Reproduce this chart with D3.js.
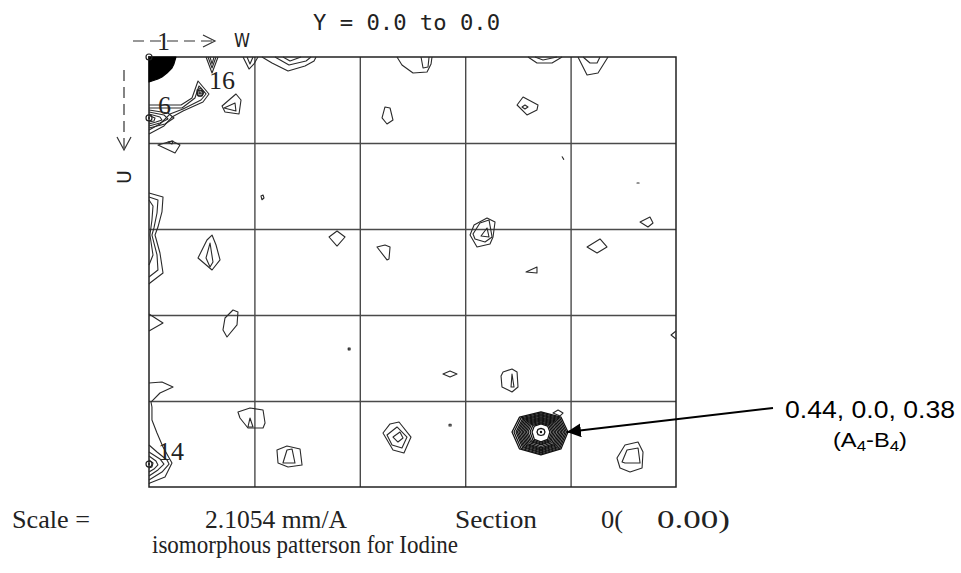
<!DOCTYPE html>
<html>
<head>
<meta charset="utf-8">
<script src="https://cdn.jsdelivr.net/npm/d3@7/dist/d3.min.js"></script>
<style>
  body { margin: 0; background: #fff; }
  svg { display: block; }
</style>
</head>
<body>
<svg id="chart" width="961" height="573"></svg>
<script>
// Patterson section Y = 0.0. Map coordinates W (across) and U (down)
// are given in hundredths of the cell edge: 0..50 covers 0.0..0.5.
const gridTicks = [10, 20, 30, 40];

// Solid origin peak (contours too dense to separate)
const originPeak = [[0, 0], [2.56, 0], [2.37, 0.81], [2.18, 1.28], [1.71, 1.86], [1.23, 2.33], [0.85, 2.56], [0, 2.91]];

// Contours cut by the top edge (open)
const topEdgeContours = [
  [[5.41, 0], [5.98, 1.86], [6.55, 0]],
  [[5.60, 0], [5.98, 1.28], [6.36, 0]],
  [[5.79, 0], [5.98, 0.81], [6.17, 0]],
  [[8.92, 0], [9.49, 1.40], [9.96, 0.81], [10.34, 0]],
  [[9.30, 0], [9.58, 0.81], [9.87, 0]],
  [[10.72, 0], [11.67, 0.70], [13.19, 1.63], [14.80, 1.05], [15.66, 0.47], [15.85, 0]],
  [[11.95, 0], [13.28, 0.93], [14.90, 0.47], [15.37, 0]],
  [[12.71, 0], [13.38, 0.47], [14.42, 0]],
  [[23.53, 0], [24.00, 0.93], [25.05, 1.86], [26.38, 1.74], [26.76, 0.81], [26.85, 0]],
  [[25.81, 0], [26.00, 1.28], [26.47, 1.16], [26.57, 0]],
  [[35.96, 0], [36.81, 0.70], [38.24, 0.70], [39.19, 0]],
  [[36.62, 0], [37.38, 0.35], [38.71, 0]],
  [[40.70, 0], [41.56, 2.09], [42.60, 1.86], [43.55, 0]],
  [[41.18, 0], [41.84, 0.70], [42.51, 0.70], [42.79, 0]]
];

// Contours cut by the left and right edges (open)
const sideEdgeContours = [
  [[0, 5.58], [3.04, 5.58], [4.08, 4.77], [4.65, 2.79], [5.69, 4.30], [5.12, 5.23], [3.23, 6.28], [2.18, 6.98], [1.42, 8.02], [0, 8.95]],
  [[0, 5.93], [3.13, 5.93], [4.36, 4.77], [4.74, 3.37], [5.41, 4.30], [4.93, 5.00], [3.23, 6.05], [1.99, 6.63], [1.04, 7.79], [0, 8.49]],
  [[0, 6.16], [1.80, 6.51], [2.37, 7.09], [1.52, 7.79], [0, 8.26]],
  [[0, 6.40], [1.42, 6.74], [1.80, 7.21], [1.04, 7.67], [0, 8.02]],
  [[0, 6.63], [1.04, 6.98], [1.23, 7.33], [0.66, 7.56], [0, 7.79]],
  [[0, 6.80], [0.57, 7.09], [0.47, 7.44], [0, 7.56]],
  [[0, 15.81], [1.33, 16.28], [1.23, 18.02], [0.85, 19.77], [0.57, 20.70], [1.04, 22.79], [1.33, 25.12], [0.09, 26.28], [0, 26.4]],
  [[0, 16.28], [0.85, 16.63], [0.76, 18.14], [0.47, 19.88], [0.28, 20.70], [0.76, 23.02], [0.85, 24.77], [0, 25.58]],
  [[0, 16.63], [0.38, 17.33], [0.28, 18.95], [0.09, 20.70], [0.38, 23.02], [0, 24.19]],
  [[0, 29.88], [1.33, 30.93], [0, 31.86]],
  [[0, 37.91], [1.23, 37.79], [2.28, 38.37], [1.04, 39.07], [0.19, 40.12], [0.28, 40.70], [0.28, 42.21], [0.76, 43.72], [1.33, 45.35], [2.18, 47.21], [1.52, 48.84], [0.09, 49.53], [0, 49.65]],
  [[0, 45.12], [0.76, 45.93], [1.71, 46.86], [1.90, 47.33], [1.23, 48.26], [0, 49.19]],
  [[0, 45.93], [1.04, 46.74], [1.42, 47.33], [0.85, 48.02], [0, 48.72]],
  [[0, 46.40], [0.66, 46.98], [0.85, 47.44], [0.47, 47.91], [0, 48.26]],
  [[0, 46.86], [0.38, 47.21], [0.28, 47.67], [0, 47.79]],
  [[50, 31.86], [49.53, 32.33], [50, 32.79]]
];

// Closed contours inside the map
const closedContours = [
  [[6.93, 5.70], [8.25, 4.30], [8.73, 5.00], [8.54, 6.63], [7.21, 6.40]],
  [[7.12, 5.93], [8.16, 5.35], [8.25, 6.28]],
  [[4.55, 3.84], [4.93, 3.60], [5.22, 4.07], [5.03, 4.53], [4.65, 4.53]],
  [[4.74, 3.95], [5.03, 3.95], [5.03, 4.30], [4.74, 4.30]],
  [[22.39, 5.81], [22.87, 5.93], [23.15, 7.33], [22.58, 7.79], [22.11, 7.09]],
  [[34.92, 5.58], [35.49, 4.65], [36.91, 5.58], [36.81, 6.16], [35.86, 6.74]],
  [[35.39, 5.81], [35.67, 5.58], [35.96, 5.81], [35.67, 6.05]],
  [[0.85, 10.23], [2.18, 9.77], [2.94, 10.23], [2.47, 11.16]],
  [[1.80, 9.88], [2.28, 9.77], [2.18, 10.12]],
  [[10.62, 16.16], [10.82, 16.05], [10.91, 16.40], [10.72, 16.60]],
  [[39.20, 11.60], [39.35, 11.90]],
  [[46.30, 14.65], [46.50, 14.65]],
  [[46.59, 19.19], [47.53, 18.60], [47.82, 19.30], [47.34, 19.77]],
  [[17.08, 20.93], [17.84, 20.23], [18.60, 20.93], [17.84, 21.98]],
  [[21.63, 22.09], [22.39, 21.86], [22.87, 22.09], [22.77, 23.49], [22.58, 23.60]],
  [[30.46, 20.70], [30.84, 19.53], [32.07, 18.72], [32.83, 19.19], [32.64, 20.93], [32.35, 21.74], [31.12, 22.09]],
  [[30.74, 20.58], [31.40, 19.30], [32.26, 18.95], [32.55, 20.93], [31.88, 21.51], [30.93, 21.16]],
  [[31.50, 20.81], [32.07, 19.88], [32.26, 20.93]],
  [[35.77, 25.00], [36.81, 24.42], [36.81, 25.12]],
  [[41.56, 22.09], [42.79, 21.16], [43.45, 22.09], [42.51, 22.79]],
  [[4.65, 23.37], [5.50, 21.28], [5.98, 20.70], [6.36, 21.86], [6.74, 23.60], [5.98, 24.77]],
  [[5.41, 23.37], [5.79, 21.63], [6.07, 23.84], [5.79, 24.42]],
  [[7.97, 29.42], [8.44, 29.65], [8.35, 31.16], [7.40, 32.56], [7.02, 31.74], [7.21, 30.35]],
  [[18.90, 33.85], [19.08, 33.85], [19.08, 34.05], [18.90, 34.05]],
  [[27.89, 36.86], [28.56, 36.51], [29.22, 36.86], [28.56, 37.21]],
  [[33.40, 37.09], [33.59, 36.63], [34.44, 36.28], [34.92, 36.63], [35.01, 38.37], [34.44, 38.95], [33.49, 38.37]],
  [[34.35, 38.37], [34.44, 36.86], [34.63, 38.37]],
  [[8.44, 41.28], [9.58, 40.81], [10.82, 41.05], [11.01, 42.56], [10.82, 43.14], [9.39, 43.14], [8.63, 41.98]],
  [[9.39, 43.02], [9.58, 41.98], [9.87, 43.02]],
  [[12.14, 45.70], [13.09, 45.23], [14.33, 45.58], [14.52, 47.44], [13.19, 47.67], [12.24, 47.21]],
  [[12.71, 47.21], [13.09, 45.70], [13.57, 45.58], [13.85, 47.21]],
  [[22.20, 43.72], [22.87, 42.67], [23.72, 42.44], [24.86, 44.19], [24.19, 46.05], [23.15, 45.70]],
  [[22.58, 43.95], [23.53, 43.02], [24.48, 44.19], [24.00, 45.47], [23.06, 45.12]],
  [[23.15, 44.19], [23.81, 43.60], [24.10, 44.30], [23.62, 44.77]],
  [[28.47, 42.70], [28.66, 42.70], [28.66, 42.90], [28.47, 42.90]],
  [[44.40, 46.63], [45.16, 45.12], [46.40, 44.77], [46.87, 45.93], [46.78, 47.79], [45.64, 48.26], [44.69, 47.79]],
  [[44.88, 47.09], [45.35, 45.70], [46.40, 45.47], [46.59, 47.21], [45.16, 47.21]],
  [[38.33, 41.40], [38.81, 41.05], [39.28, 41.40], [39.00, 41.74]]
];

// Strong Harker peak: centre and the extents of its nested contours
const peakCentre = { w: 37.19, u: 43.60 };
const ringLeft   = [2.75, 2.56, 2.37, 2.23, 2.09, 1.94, 1.80, 1.66, 1.52, 1.38, 1.23, 1.04, 0.85, 0.38];
const ringRight  = [2.56, 2.42, 2.28, 2.13, 1.99, 1.85, 1.71, 1.57, 1.42, 1.28, 1.14, 1.00, 0.85, 0.38];
const ringTop    = [2.33, 2.21, 2.09, 1.98, 1.86, 1.74, 1.63, 1.51, 1.40, 1.28, 1.16, 1.05, 0.93, 0.41];
const ringBottom = [2.67, 2.56, 2.44, 2.33, 2.21, 2.09, 1.98, 1.86, 1.69, 1.51, 1.40, 1.28, 1.16, 0.41];

// Atom positions marked on the section
const atomLabels = ["1", "6", "16", "14"];
const atomW = [0, 0, 4.84, 0];
const atomU = [0, 7.09, 4.19, 47.33];

// Peak annotation
const peakCoords = "0.44, 0.0, 0.38";
const peakPair = ["A", "4", "-B", "4"];

const svg = d3.select("#chart");
const x = d3.scaleLinear().domain([0, 50]).range([149, 676]);
const y = d3.scaleLinear().domain([0, 50]).range([57, 487]);

const openLine = d3.line().x(d => x(d[0])).y(d => y(d[1]));
const closedLine = d3.line().x(d => x(d[0])).y(d => y(d[1])).curve(d3.curveLinearClosed);

// Grid at 0.1 intervals
svg.append("g")
  .attr("transform", `translate(0,${y(0)})`)
  .call(d3.axisTop(x).tickValues(gridTicks).tickSize(-(y(50) - y(0))).tickFormat(""))
  .call(g => g.select(".domain").remove())
  .call(g => g.selectAll("line").attr("stroke", "#4a4a4a").attr("stroke-width", 1.4));
svg.append("g")
  .attr("transform", `translate(${x(0)},0)`)
  .call(d3.axisLeft(y).tickValues(gridTicks).tickSize(-(x(50) - x(0))).tickFormat(""))
  .call(g => g.select(".domain").remove())
  .call(g => g.selectAll("line").attr("stroke", "#4a4a4a").attr("stroke-width", 1.4));
svg.append("rect")
  .attr("x", x(0)).attr("y", y(0))
  .attr("width", x(50) - x(0)).attr("height", y(50) - y(0))
  .attr("fill", "none").attr("stroke", "#222").attr("stroke-width", 1.5);

const contours = svg.append("g")
  .attr("fill", "none").attr("stroke", "#2a2a2a").attr("stroke-width", 1.1)
  .attr("stroke-linejoin", "round");

contours.append("path").attr("d", closedLine(originPeak)).attr("fill", "#000").attr("stroke", "#000");
contours.selectAll(".top").data(topEdgeContours).join("path").attr("class", "top").attr("d", openLine);
contours.selectAll(".side").data(sideEdgeContours).join("path").attr("class", "side").attr("d", openLine);
contours.selectAll(".closed").data(closedContours).join("path").attr("class", "closed").attr("d", closedLine);

// Nested rings of the strong peak, each an octagon through its four extents
const diag = 0.74;
const rings = ringLeft.map((l, i) => {
  const r = ringRight[i], t = ringTop[i], b = ringBottom[i];
  const c = peakCentre;
  return [
    [c.w + r, c.u], [c.w + r * diag, c.u + b * diag], [c.w, c.u + b], [c.w - l * diag, c.u + b * diag],
    [c.w - l, c.u], [c.w - l * diag, c.u - t * diag], [c.w, c.u - t], [c.w + r * diag, c.u - t * diag]
  ];
});
contours.selectAll(".ring").data(rings).join("path").attr("class", "ring")
  .attr("d", closedLine).attr("stroke", "#111").attr("stroke-width", 1.25);
contours.append("circle").attr("cx", x(peakCentre.w)).attr("cy", y(peakCentre.u)).attr("r", 1.2)
  .attr("fill", "#111").attr("stroke", "none");

// Atom markers and numbers
const atoms = svg.append("g");
atomLabels.forEach((lab, i) => {
  const cx = x(atomW[i]), cy = y(atomU[i]);
  atoms.append("circle").attr("cx", cx).attr("cy", cy).attr("r", 3)
    .attr("fill", "none").attr("stroke", "#222").attr("stroke-width", 1.2);
  atoms.append("circle").attr("cx", cx).attr("cy", cy).attr("r", 1)
    .attr("fill", "#222");
  if (lab !== "1") {
    atoms.append("text").attr("x", cx + 9).attr("y", cy - 4)
      .attr("font-family", "Liberation Serif, serif").attr("font-size", 26)
      .attr("fill", "#222").text(lab);
  }
});

// Axis directions: W across, U down
const dirs = svg.append("g").attr("stroke", "#333").attr("stroke-width", 1.2).attr("fill", "none");
dirs.append("line").attr("x1", 133).attr("y1", 41).attr("x2", 213).attr("y2", 41)
  .attr("stroke-dasharray", "11,6");
dirs.append("polyline").attr("points", "203,35 215,41 203,47");
dirs.append("line").attr("x1", 124).attr("y1", 70).attr("x2", 124).attr("y2", 148)
  .attr("stroke-dasharray", "11,6");
dirs.append("polyline").attr("points", "117,137 124,150 131,137");

const label = (t, px, py, opts = {}) => svg.append("text")
  .attr("x", px).attr("y", py)
  .attr("font-family", opts.family || "DejaVu Sans, sans-serif")
  .attr("font-size", opts.size || 20)
  .attr("fill", opts.fill || "#222")
  .attr("text-anchor", opts.anchor || "start")
  .attr("textLength", opts.len || null)
  .attr("lengthAdjust", opts.len ? "spacingAndGlyphs" : null)
  .text(t);

label("1", 157, 50, { family: "Liberation Serif, serif", size: 26 });
label("W", 234, 47, { size: 19, len: 16 });
label("U", 0, 0, { size: 19 }).attr("transform", "translate(131,184) rotate(-90)");
label("Y = 0.0 to 0.0", 313, 30, { family: "DejaVu Sans Mono, monospace", size: 21, len: 187 });

const serif = "Liberation Serif, serif";
label("Scale =", 12, 528, { family: serif, size: 25, len: 78 });
label("2.1054 mm/A", 205, 528, { family: serif, size: 25, len: 142 });
label("Section", 455, 528, { family: serif, size: 25, len: 82 });
label("0(", 601, 528, { family: serif, size: 25, len: 22 });
label("0.00)", 657, 528, { family: serif, size: 25, len: 73 });
label("isomorphous patterson for Iodine", 152, 553, { family: serif, size: 25, len: 306 });

// Annotation arrow pointing at the strong peak
const defs = svg.append("defs");
defs.append("marker").attr("id", "head").attr("viewBox", "0 0 10 10")
  .attr("refX", 10).attr("refY", 5).attr("markerWidth", 7).attr("markerHeight", 7)
  .attr("markerUnits", "strokeWidth").attr("orient", "auto")
  .append("path").attr("d", "M0,0 L10,5 L0,10 Z").attr("fill", "#000");
const tipX = x(peakCentre.w + ringRight[0]) - 1;
const tipY = y(peakCentre.u);
svg.append("line").attr("x1", 773).attr("y1", 408).attr("x2", tipX).attr("y2", tipY)
  .attr("stroke", "#000").attr("stroke-width", 2).attr("marker-end", "url(#head)");

label(peakCoords, 785, 418, { family: "Liberation Sans, Arial, sans-serif", size: 24, fill: "#000", len: 170 });
const pair = svg.append("text").attr("x", 833).attr("y", 447)
  .attr("font-family", "Liberation Sans, Arial, sans-serif").attr("font-size", 21).attr("fill", "#000")
  .attr("textLength", 74).attr("lengthAdjust", "spacingAndGlyphs");
pair.append("tspan").text("(");
pair.append("tspan").text(peakPair[0]);
pair.append("tspan").attr("font-size", 15).attr("dy", 4).text(peakPair[1]);
pair.append("tspan").attr("dy", -4).text(peakPair[2]);
pair.append("tspan").attr("font-size", 15).attr("dy", 4).text(peakPair[3]);
pair.append("tspan").attr("dy", -4).text(")");
</script>
</body>
</html>
